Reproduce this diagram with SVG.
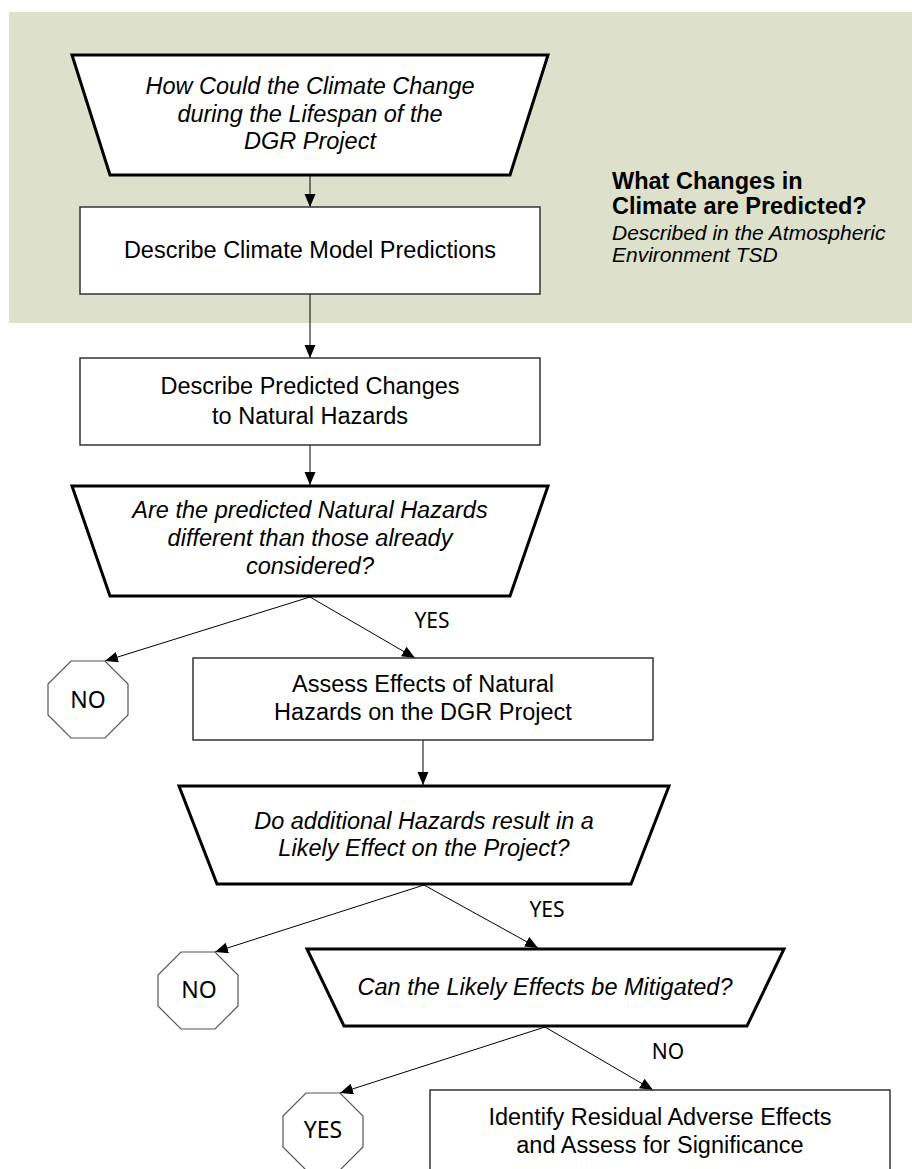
<svg xmlns="http://www.w3.org/2000/svg" width="912" height="1169" viewBox="0 0 912 1169">
<defs>
<marker id="ah" markerUnits="userSpaceOnUse" markerWidth="14" markerHeight="12" refX="13" refY="5.5" orient="auto">
<path d="M0,0 L13,5.5 L0,11 z" fill="#000"/>
</marker>
<style>
.box{fill:#fff;stroke:#333;stroke-width:1.5}
.trap{fill:#fff;stroke:#000;stroke-width:3;stroke-linejoin:miter}
.oct{fill:#fff;stroke:#555;stroke-width:1.2}
.t{font-family:"Liberation Sans",Arial,sans-serif;font-size:23.5px;fill:#000;text-anchor:middle}
.q{font-style:italic}
.lbl{font-family:"Noto Sans","DejaVu Sans",sans-serif;font-size:21px;fill:#000;text-anchor:middle}
.ol{font-family:"Noto Sans","DejaVu Sans",sans-serif;font-size:23px;fill:#000;text-anchor:middle}
.c{stroke:#000;stroke-width:1;fill:none;marker-end:url(#ah)}
.hd{font-family:"Liberation Sans",Arial,sans-serif;font-weight:bold;font-size:23.5px;fill:#000}
.sub{font-family:"Liberation Sans",Arial,sans-serif;font-style:italic;font-size:21px;fill:#000}
</style>
</defs>
<rect id="background" x="9" y="12" width="903" height="311" fill="#dde1cc"/>
<g id="side-note">
<text class="hd" x="612" y="189">What Changes in</text>
<text class="hd" x="612" y="214">Climate are Predicted?</text>
<text class="sub" x="612" y="240">Described in the Atmospheric</text>
<text class="sub" x="612" y="262">Environment TSD</text>
</g>
<g id="connectors">
<line class="c" x1="310" y1="176" x2="310" y2="207"/>
<line class="c" x1="310" y1="294" x2="310" y2="358"/>
<line class="c" x1="310" y1="445" x2="310" y2="485"/>
<line class="c" x1="310" y1="597" x2="105" y2="661"/>
<line class="c" x1="310" y1="597" x2="415" y2="658"/>
<line class="c" x1="423" y1="740" x2="423" y2="785"/>
<line class="c" x1="424" y1="885" x2="215" y2="952"/>
<line class="c" x1="424" y1="885" x2="538" y2="948"/>
<line class="c" x1="545" y1="1027" x2="340" y2="1093"/>
<line class="c" x1="545" y1="1027" x2="653" y2="1090"/>
<text class="lbl" x="432" y="628">YES</text>
<text class="lbl" x="547" y="917">YES</text>
<text class="lbl" x="668" y="1059">NO</text>
</g>
<g id="q-climate">
<polygon class="trap" points="72,55 548,55 510,175 110,175"/>
<text class="t q" x="310" y="94">How Could the Climate Change</text>
<text class="t q" x="310" y="122">during the Lifespan of the</text>
<text class="t q" x="310" y="149">DGR Project</text>
</g>
<g id="box-climate-model">
<rect class="box" x="80" y="207" width="460" height="87"/>
<text class="t" x="310" y="258">Describe Climate Model Predictions</text>
</g>
<g id="box-predicted-changes">
<rect class="box" x="80" y="358" width="460" height="87"/>
<text class="t" x="310" y="394">Describe Predicted Changes</text>
<text class="t" x="310" y="424">to Natural Hazards</text>
</g>
<g id="q-different">
<polygon class="trap" points="72,486 548,486 510,596 110,596"/>
<text class="t q" x="310" y="518">Are the predicted Natural Hazards</text>
<text class="t q" x="310" y="546">different than those already</text>
<text class="t q" x="310" y="574">considered?</text>
</g>
<g id="stop-no-1">
<polygon class="oct" points="71,661 105,661 128,684 128,715 105,738 71,738 48,715 48,684"/>
<text class="ol" x="88" y="708">NO</text>
</g>
<g id="box-assess">
<rect class="box" x="193" y="658" width="460" height="82"/>
<text class="t" x="423" y="692">Assess Effects of Natural</text>
<text class="t" x="423" y="720">Hazards on the DGR Project</text>
</g>
<g id="q-likely">
<polygon class="trap" points="179,786 669,786 631,884 217,884"/>
<text class="t q" x="424" y="829">Do additional Hazards result in a</text>
<text class="t q" x="424" y="856">Likely Effect on the Project?</text>
</g>
<g id="stop-no-2">
<polygon class="oct" points="181,952 215,952 238,975 238,1006 215,1029 181,1029 158,1006 158,975"/>
<text class="ol" x="199" y="998">NO</text>
</g>
<g id="q-mitigated">
<polygon class="trap" points="307,949 784,949 747,1026 344,1026"/>
<text class="t q" x="545" y="995">Can the Likely Effects be Mitigated?</text>
</g>
<g id="stop-yes">
<polygon class="oct" points="306,1093 340,1093 363,1116 363,1147 340,1170 306,1170 283,1147 283,1116"/>
<text class="ol" x="323" y="1138">YES</text>
</g>
<g id="box-residual">
<rect class="box" x="430" y="1090" width="460" height="90"/>
<text class="t" x="660" y="1125">Identify Residual Adverse Effects</text>
<text class="t" x="660" y="1153">and Assess for Significance</text>
</g>
</svg>
